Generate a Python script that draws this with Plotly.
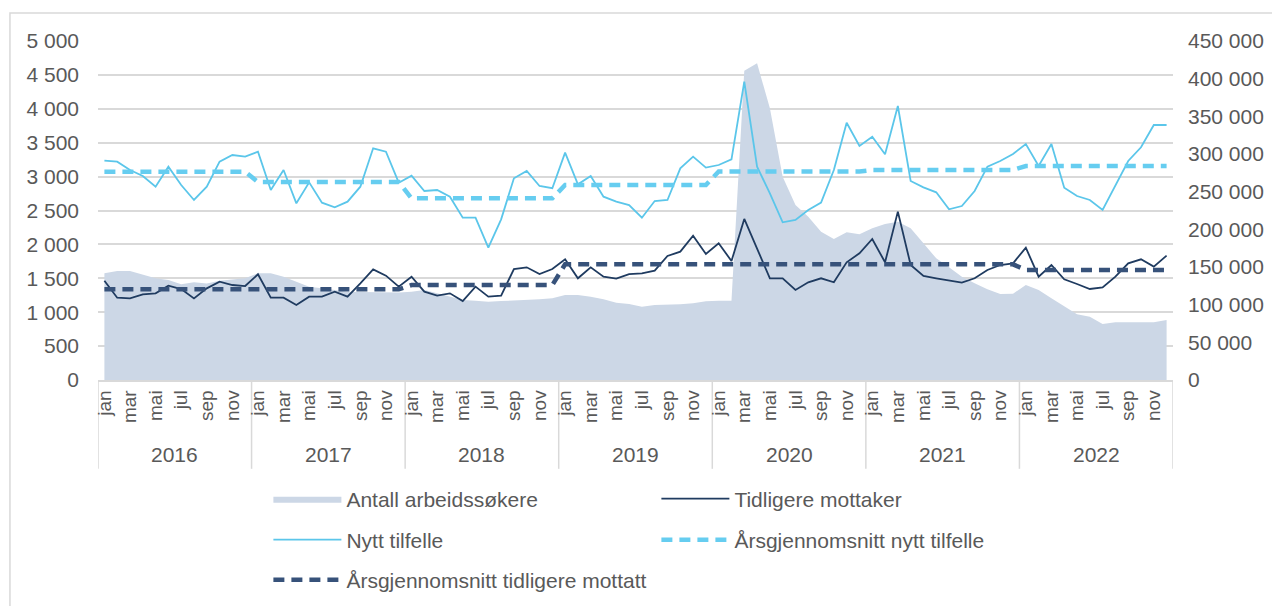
import plotly.graph_objects as go

years = ["2016", "2017", "2018", "2019", "2020", "2021", "2022"]
month_names = ["jan", "feb", "mar", "apr", "mai", "jun", "jul", "aug", "sep", "okt", "nov", "des"]
shown_months = ["jan", "mar", "mai", "jul", "sep", "nov"]

# Antall arbeidssøkere (right axis)
arbeidssokere = [
    141600, 144700, 144700, 140300, 135000, 132700, 127000, 129700, 128000, 131800, 133600, 135000,
    141600, 141600, 137100, 130500, 123900, 121700, 119500, 117200, 116800, 116400, 116000, 116000,
    117200, 119500, 115000, 110600, 106200, 105300, 104000, 104800, 105300, 106200, 107100, 108400,
    112800, 112800, 110600, 107100, 102600, 100900, 97300, 99500, 99500, 100500, 101800, 104500,
    105300, 105300, 410500, 420400, 360600, 269900, 232300, 216800, 196900, 187200, 196000, 193400,
    201400, 207100, 210100, 201400, 181400, 161500, 149600, 137100, 128300, 120400, 114000, 114500,
    126100, 119500, 108400, 97300, 87200, 84100, 74300, 76600, 76600, 76200, 76600, 79600,
]

# Tidligere mottaker (left axis)
tidligere = [
    1465, 1214, 1204, 1264, 1278, 1391, 1342, 1204, 1352, 1450, 1401, 1386,
    1559, 1214, 1214, 1106, 1229, 1229, 1303, 1229, 1426, 1632, 1539, 1377,
    1524, 1303, 1244, 1278, 1165, 1377, 1229, 1244, 1637, 1662, 1563, 1637,
    1780, 1500, 1662, 1524, 1495, 1563, 1573, 1612, 1829, 1893, 2129, 1858,
    2016, 1755, 2375, 1942, 1500, 1500, 1328, 1441, 1500, 1441, 1736, 1869,
    2080, 1736, 2483, 1696, 1534, 1500, 1465, 1436, 1500, 1622, 1696, 1721,
    1952, 1524, 1696, 1485, 1416, 1342, 1367, 1524, 1721, 1780, 1672, 1834,
]

# Nytt tilfelle (left axis)
nytt = [
    3235, 3220, 3097, 3009, 2851, 3146, 2876, 2655, 2851, 3220, 3318, 3294,
    3367, 2802, 3097, 2606, 2915, 2615, 2546, 2630, 2851, 3417, 3367, 2910,
    3014, 2788, 2802, 2704, 2394, 2394, 1952, 2370, 2975, 3083, 2862, 2828,
    3353, 2886, 3009, 2704, 2630, 2581, 2394, 2640, 2655, 3122, 3294, 3132,
    3171, 3255, 4400, 3146, 2753, 2326, 2360, 2508, 2616, 3097, 3795, 3451,
    3589, 3329, 4041, 2935, 2842, 2768, 2517, 2566, 2788, 3146, 3230, 3333,
    3481, 3156, 3481, 2837, 2714, 2655, 2508, 2876, 3230, 3432, 3761, 3761,
]

# Yearly averages (one value per year)
snitt_nytt = [3070, 2920, 2680, 2876, 3075, 3097, 3156]
snitt_tidligere = [1338, 1338, 1401, 1706, 1696, 1706, 1622]

n = len(nytt)
x = list(range(n))
snitt_nytt_m = [v for v in snitt_nytt for _ in range(12)]
snitt_tidl_m = [v for v in snitt_tidligere for _ in range(12)]

FONT = "Liberation Sans, Arial, sans-serif"
TXT = "#595959"
GRID = "#D9D9D9"

fig = go.Figure()

fig.add_trace(go.Scatter(
    x=x, y=arbeidssokere, name="Antall arbeidssøkere", yaxis="y",
    fill="tozeroy", fillcolor="#CCD7E6", mode="lines",
    line=dict(width=0, color="#CCD7E6"), legend="legend",
))
fig.add_trace(go.Scatter(
    x=x, y=tidligere, name="Tidligere mottaker", yaxis="y2", mode="lines",
    line=dict(color="#1F3B60", width=1.8), legend="legend",
))
fig.add_trace(go.Scatter(
    x=x, y=nytt, name="Nytt tilfelle", yaxis="y2", mode="lines",
    line=dict(color="#5BC6EA", width=1.8), legend="legend2",
))
fig.add_trace(go.Scatter(
    x=x, y=snitt_nytt_m, name="Årsgjennomsnitt nytt tilfelle", yaxis="y2", mode="lines",
    line=dict(color="#66CDF0", width=4.5, dash="11px,7px"), legend="legend2",
))
fig.add_trace(go.Scatter(
    x=x, y=snitt_tidl_m, name="Årsgjennomsnitt tidligere mottatt", yaxis="y2", mode="lines",
    line=dict(color="#37527A", width=4.5, dash="11px,7px"), legend="legend3",
))

tickvals = [i for i in x if month_names[i % 12] in shown_months]
ticktext = [month_names[i % 12] for i in tickvals]

shapes = []
for i in range(len(years) + 1):
    shapes.append(dict(type="line", xref="x", yref="paper",
                       x0=12 * i - 0.5, x1=12 * i - 0.5, y0=0, y1=-0.262,
                       line=dict(color=GRID, width=1.5), layer="below"))
# outer chart border
shapes.append(dict(type="rect", xref="paper", yref="paper",
                   x0=-0.0819, x1=1.2, y0=-0.8, y1=1.0826,
                   line=dict(color=GRID, width=1.5), layer="below"))

annotations = []
for i, yr in enumerate(years):
    annotations.append(dict(x=12 * i + 5.5, y=-0.219, xref="x", yref="paper",
                            text=yr, showarrow=False, yanchor="middle",
                            font=dict(family=FONT, size=21, color=TXT)))

leg_common = dict(orientation="h", xanchor="left", yanchor="middle",
                  entrywidth=305, itemwidth=68, bgcolor="rgba(0,0,0,0)",
                  font=dict(family=FONT, size=21, color=TXT), traceorder="normal")

fig.update_layout(
    width=1272, height=606,
    margin=dict(l=98, r=99, t=41, b=226, autoexpand=False),
    paper_bgcolor="white", plot_bgcolor="white",
    separators=", ",
    font=dict(family=FONT, size=21, color=TXT),
    xaxis=dict(range=[-0.5, n - 0.5], tickvals=tickvals, ticktext=ticktext,
               tickangle=-90, showgrid=False, zeroline=False,
               showline=True, linecolor=GRID, linewidth=1.5,
               ticks="", ticklabelstandoff=1,
               tickfont=dict(family=FONT, size=19, color=TXT)),
    yaxis=dict(range=[0, 450000], dtick=50000, side="right", showgrid=False,
               zeroline=False, tickformat=",d", ticks="", ticklabelstandoff=14,
               tickfont=dict(family=FONT, size=21, color=TXT)),
    yaxis2=dict(range=[0, 5000], dtick=500, side="left", overlaying="y", anchor="x",
                showgrid=True, gridcolor=GRID, gridwidth=1.5, zeroline=False,
                tickformat=",d", ticks="", ticklabelstandoff=18,
                tickfont=dict(family=FONT, size=21, color=TXT)),
    legend=dict(x=0.1585, y=-0.351, **leg_common),
    legend2=dict(x=0.1585, y=-0.472, **leg_common),
    legend3=dict(x=0.1585, y=-0.590, **leg_common),
    shapes=shapes,
    annotations=annotations,
    showlegend=True,
)

fig.write_html("out.html", config={"displayModeBar": False},
               post_script="document.body.style.margin='0';document.body.style.overflow='hidden';")
